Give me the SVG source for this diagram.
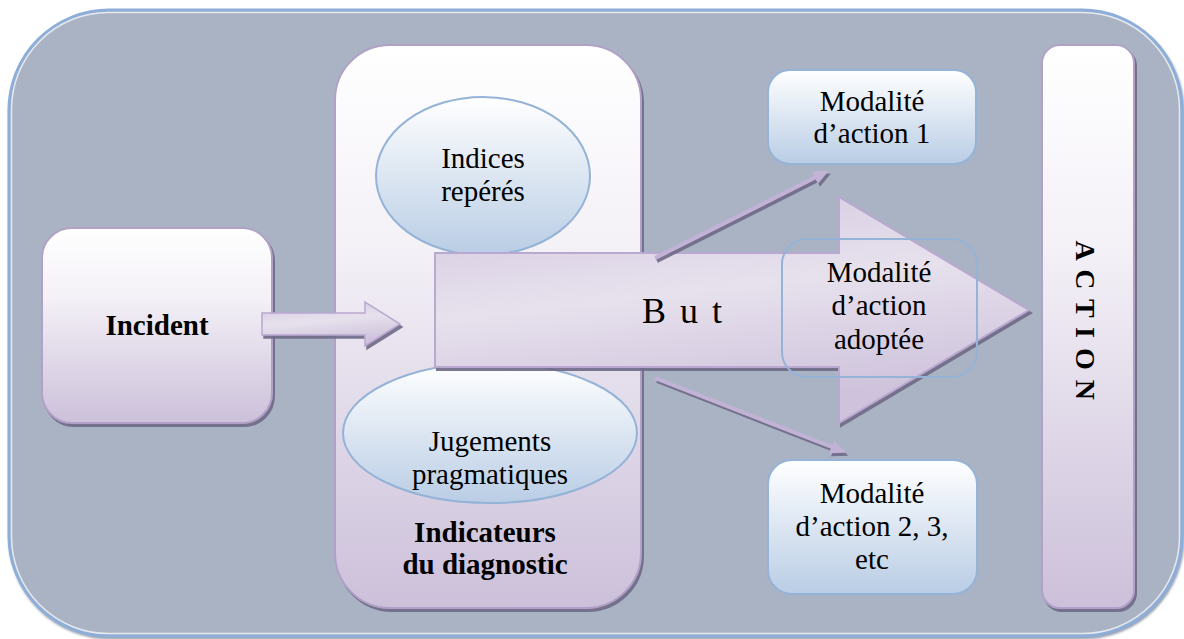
<svg xmlns="http://www.w3.org/2000/svg" width="1184" height="639" viewBox="0 0 1184 639">
<defs>
<style>
.pbox{fill:url(#gPurple);stroke:#B2A1C7;stroke-width:2;filter:url(#sh)}
.bbox{fill:url(#gBlue);stroke:#95B3D7;stroke-width:2}
.conn{stroke:#C2B2D6;stroke-width:4;fill:none;marker-end:url(#ah)}
</style>
<linearGradient id="gPurple" x1="0" y1="0" x2="0" y2="1">
<stop offset="0" stop-color="#FFFFFF"/>
<stop offset="0.35" stop-color="#F4F1F7"/>
<stop offset="1" stop-color="#CCC0DA"/>
</linearGradient>
<linearGradient id="gBlue" x1="0" y1="0" x2="0" y2="1">
<stop offset="0" stop-color="#FFFFFF"/>
<stop offset="1" stop-color="#B9CDE5"/>
</linearGradient>
<linearGradient id="gArrow" x1="0" y1="0" x2="0.3" y2="1">
<stop offset="0" stop-color="#D3C8E0"/>
<stop offset="0.5" stop-color="#E7E1ED"/>
<stop offset="1" stop-color="#CEC2DC"/>
</linearGradient>
<filter id="sh" x="-10%" y="-10%" width="130%" height="130%">
<feDropShadow dx="2" dy="3" stdDeviation="0.6" flood-color="#6E6A86" flood-opacity="0.9"/>
</filter>
<filter id="fsh" x="-5%" y="-5%" width="110%" height="110%">
<feDropShadow dx="1" dy="2" stdDeviation="1" flood-color="#7F8AA0" flood-opacity="0.8"/>
</filter>
<marker id="ah" viewBox="0 0 16 14" refX="6" refY="7" markerWidth="16" markerHeight="14" markerUnits="userSpaceOnUse" orient="auto">
<path d="M0,0 L16,7 L0,14 z" fill="#C2B2D6"/>
</marker>
</defs>

<g id="frame">
<rect x="9" y="10" width="1173" height="626" rx="100" ry="100" fill="#A9B3C3" stroke="#8EAEDA" stroke-width="3" filter="url(#fsh)"/>
<rect x="11.5" y="12.5" width="1168" height="621" rx="97" ry="97" fill="none" stroke="#FFFFFF" stroke-opacity="0.7" stroke-width="1.5"/>
</g>

<g id="indicateurs">
<rect class="pbox" x="335" y="45" width="306" height="563" rx="55" ry="55"/>
<text x="485" y="542" font-family="Liberation Serif" font-size="29" font-weight="bold" text-anchor="middle">Indicateurs</text>
<text x="485" y="574" font-family="Liberation Serif" font-size="29" font-weight="bold" text-anchor="middle">du diagnostic</text>
</g>

<g id="indices">
<ellipse class="bbox" cx="483" cy="176" rx="107" ry="79"/>
<text x="483" y="168" font-family="Liberation Serif" font-size="29" text-anchor="middle">Indices</text>
<text x="483" y="201" font-family="Liberation Serif" font-size="29" text-anchor="middle">repérés</text>
</g>

<g id="jugements">
<ellipse class="bbox" cx="490" cy="433" rx="147" ry="70"/>
<text x="490" y="451" font-family="Liberation Serif" font-size="29" text-anchor="middle">Jugements</text>
<text x="490" y="484" font-family="Liberation Serif" font-size="29" text-anchor="middle">pragmatiques</text>
</g>

<g id="incident">
<rect class="pbox" x="42" y="228" width="230" height="195" rx="30" ry="30"/>
<text x="157" y="335" font-family="Liberation Serif" font-size="29" font-weight="bold" text-anchor="middle">Incident</text>
</g>

<g id="but">
<polygon points="435,253 839,253 839,197 1029,310 839,423 839,367 435,367" fill="url(#gArrow)" stroke="#B9A8CF" stroke-width="2" filter="url(#sh)"/>
<text x="642" y="323" font-family="Liberation Serif" font-size="36" letter-spacing="2.5" xml:space="preserve">B u t</text>
</g>

<g id="modalite1">
<rect class="bbox" x="768" y="70" width="208" height="94" rx="22" ry="22"/>
<text x="872" y="111" font-family="Liberation Serif" font-size="29" text-anchor="middle">Modalité</text>
<text x="872" y="143" font-family="Liberation Serif" font-size="29" text-anchor="middle">d’action 1</text>
</g>

<g id="modaliteAdoptee">
<rect x="782" y="239" width="195" height="138" rx="25" ry="25" fill="none" stroke="#95B3D7" stroke-width="2"/>
<text x="879" y="282" font-family="Liberation Serif" font-size="29" text-anchor="middle">Modalité</text>
<text x="879" y="315" font-family="Liberation Serif" font-size="29" text-anchor="middle">d’action</text>
<text x="879" y="349" font-family="Liberation Serif" font-size="29" text-anchor="middle">adoptée</text>
</g>

<g id="modalite2">
<rect class="bbox" x="768" y="460" width="209" height="134" rx="24" ry="24"/>
<text x="872" y="503" font-family="Liberation Serif" font-size="29" text-anchor="middle">Modalité</text>
<text x="872" y="536" font-family="Liberation Serif" font-size="29" text-anchor="middle">d’action 2, 3,</text>
<text x="872" y="569" font-family="Liberation Serif" font-size="29" text-anchor="middle">etc</text>
</g>

<g id="action">
<rect class="pbox" x="1042" y="45" width="92" height="563" rx="18" ry="18"/>
<text transform="translate(1076,321) rotate(90)" x="0" y="0" font-family="Liberation Serif" font-size="28" font-weight="bold" letter-spacing="1.5" text-anchor="middle" xml:space="preserve">A C T I O N</text>
</g>

<g id="connectors" filter="url(#sh)">
<polygon points="262,313 365,313 365,302 400,324 365,346 365,335 262,335" fill="url(#gArrow)" stroke="#B9A8CF" stroke-width="1.5"/>
<line class="conn" x1="655" y1="258" x2="820" y2="175"/>
<line class="conn" x1="655" y1="378" x2="837" y2="449"/>
</g>
</svg>
